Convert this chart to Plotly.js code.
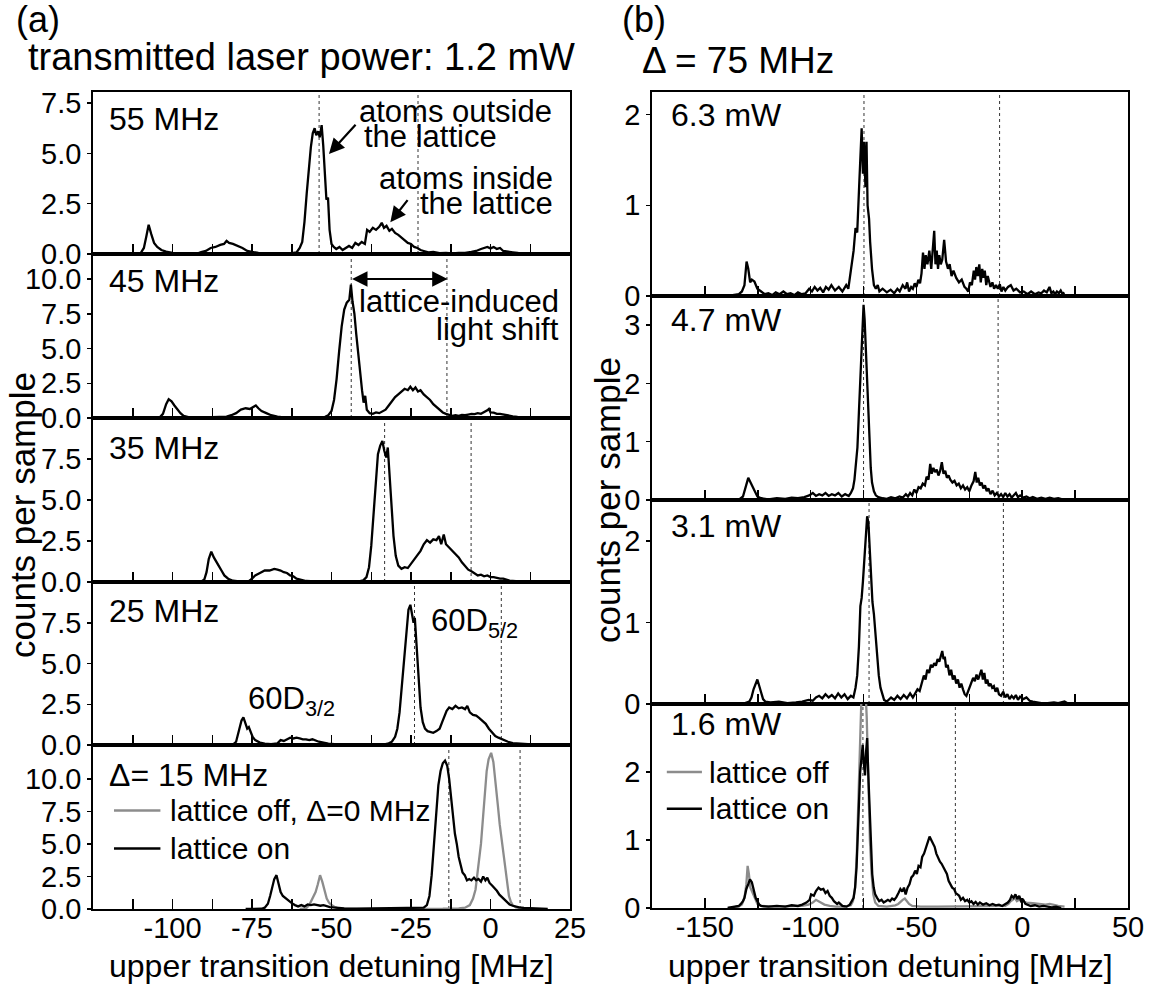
<!DOCTYPE html>
<html><head><meta charset="utf-8">
<script src="https://cdn.plot.ly/plotly-3.0.1.min.js"></script>
<style>html,body{margin:0;padding:0;background:#fff}#chart{width:1161px;height:987px}</style>
</head><body><div id="chart"></div>
<script>
// ---------------- DATA ----------------
// Panel (a): transmitted laser power 1.2 mW, [detuning MHz, counts per sample]
const a55 = [[-117,0],[-112,0],[-110,0.05],[-109,0.3],[-108.2,0.9],[-107.5,1.45],[-106.7,1.0],[-105.8,0.55],[-104.8,0.35],[-103.5,0.2],[-102,0.12],[-100,0.05],[-97,0.03],[-94,0.05],[-92,0.04],[-91,0.1],[-89.5,0.15],[-88,0.3],[-86.5,0.35],[-85,0.45],[-83.8,0.5],[-83,0.65],[-82.2,0.55],[-81,0.5],[-79.5,0.4],[-78,0.3],[-76.5,0.15],[-75,0.1],[-73,0.05],[-70,0.03],[-66,0.05],[-63,0.03],[-61,0.08],[-60,0.3],[-59.2,0.6],[-58.5,1.6],[-57.8,3.0],[-57.2,4.2],[-56.5,5.3],[-55.9,6.0],[-55.3,6.25],[-54.8,5.9],[-54.2,6.1],[-53.7,5.8],[-53.1,6.4],[-52.6,5.4],[-52.1,4.0],[-51.6,2.7],[-51.1,2.8],[-50.6,1.2],[-50,0.5],[-49.3,0.35],[-48.5,0.25],[-47.5,0.35],[-46.5,0.2],[-45.5,0.3],[-44.5,0.4],[-43.5,0.3],[-42.5,0.55],[-41.5,0.45],[-40.5,0.6],[-39.5,0.5],[-38.8,1.2],[-38,1.1],[-37,1.3],[-36,1.2],[-35,1.35],[-34.2,1.55],[-33.5,1.3],[-32.7,1.4],[-31.8,1.15],[-31,1.25],[-30,1.05],[-29,0.95],[-28,0.8],[-27,0.7],[-26,0.55],[-25,0.5],[-24,0.35],[-23,0.3],[-22,0.2],[-21,0.15],[-19.5,0.08],[-18,0.1],[-16,0.04],[-14,0.06],[-12,0.03],[-10,0.05],[-8,0.05],[-6,0.1],[-4.5,0.15],[-3,0.25],[-2,0.3],[-1,0.35],[0,0.28],[1,0.35],[2,0.25],[3,0.3],[4,0.15],[5.5,0.1],[7,0.08],[8.5,0.05],[10,0]];
const a45 = [[-110.5,0],[-106,0],[-104,0.05],[-103,0.3],[-102,1.0],[-101.2,1.35],[-100.3,1.2],[-99.4,0.9],[-98.5,0.6],[-97.5,0.35],[-96.5,0.15],[-95,0.06],[-92,0.03],[-88,0.04],[-85,0.05],[-83,0.1],[-81.5,0.2],[-80,0.35],[-78.5,0.6],[-77,0.7],[-75.7,0.65],[-74.8,0.75],[-73.8,0.9],[-73,0.7],[-72,0.5],[-70.5,0.35],[-69,0.2],[-67,0.1],[-65,0.05],[-60,0.03],[-55,0.05],[-52,0.08],[-51,0.2],[-50,0.5],[-49.2,1.3],[-48.4,2.8],[-47.6,4.8],[-46.8,6.6],[-46,7.8],[-45.2,8.3],[-44.4,8.5],[-43.9,9.6],[-43.4,8.4],[-42.8,7.5],[-42.2,6.0],[-41.6,4.5],[-41,3.2],[-40.4,2.0],[-39.9,1.1],[-39.4,1.6],[-38.9,0.6],[-38,0.35],[-37,0.3],[-36,0.4],[-35,0.35],[-34,0.45],[-33,0.6],[-32,0.9],[-31,1.2],[-30,1.5],[-29,1.7],[-28,1.9],[-27,2.1],[-26,2.0],[-25.2,2.25],[-24.4,2.0],[-23.6,2.2],[-22.8,1.9],[-22,2.0],[-21,1.7],[-20,1.5],[-19,1.3],[-18,1.0],[-17,0.8],[-16,0.55],[-15,0.4],[-14,0.3],[-13,0.2],[-12,0.15],[-11,0.2],[-10,0.15],[-9,0.22],[-8,0.2],[-7,0.25],[-6,0.3],[-5,0.28],[-4,0.35],[-3,0.3],[-2,0.4],[-1,0.55],[-0.5,0.65],[0,0.4],[1,0.38],[2,0.3],[3,0.3],[4,0.25],[5,0.22],[6,0.15],[7,0.12],[8.5,0.08],[10,0.05],[12,0.02],[14.5,0]];
const a35 = [[-94,0],[-91,0.02],[-90,0.15],[-89.3,0.6],[-88.6,1.4],[-87.8,1.85],[-87,1.5],[-86.3,1.3],[-85.5,1.0],[-84.6,0.7],[-83.7,0.4],[-82.5,0.2],[-81,0.08],[-79,0.03],[-76,0.05],[-75,0.2],[-74,0.4],[-72.5,0.55],[-71,0.7],[-69.5,0.7],[-68,0.8],[-67,0.75],[-66,0.7],[-65,0.6],[-64,0.55],[-63,0.4],[-62,0.35],[-61,0.2],[-59.5,0.12],[-58,0.06],[-55,0.04],[-50,0.02],[-45,0.03],[-41,0.05],[-40,0.1],[-39,0.3],[-38.2,0.9],[-37.5,2.2],[-36.8,4.2],[-36.1,6.3],[-35.4,7.8],[-34.7,8.3],[-34,8.6],[-33.4,8.0],[-32.8,7.6],[-32.3,8.2],[-31.7,6.5],[-31.1,4.5],[-30.5,2.8],[-29.8,1.6],[-29,1.0],[-28,0.8],[-27,0.9],[-26,0.85],[-25,1.1],[-24,1.35],[-23,1.6],[-22,1.9],[-21,2.3],[-20,2.55],[-19,2.4],[-18,2.6],[-17,2.55],[-16.2,2.8],[-15.5,2.3],[-14.7,2.9],[-14,2.3],[-13,2.1],[-12,1.9],[-11,1.7],[-10,1.5],[-9,1.2],[-8,1.0],[-7,0.75],[-6,0.65],[-5,0.5],[-4,0.4],[-3,0.45],[-2,0.35],[-1,0.4],[0,0.3],[1,0.3],[2,0.25],[3,0.2],[4,0.2],[5,0.12],[6,0.08],[8,0.05],[10,0.03],[12,0.02],[15,0.01],[18,0]];
const a25 = [[-84.7,0],[-81,0.02],[-80,0.2],[-79,1.0],[-78.3,1.5],[-77.7,1.7],[-77.1,1.3],[-76.5,1.0],[-76,1.1],[-75.4,0.8],[-74.8,0.5],[-74,0.3],[-72.5,0.15],[-71,0.08],[-69,0.05],[-67,0.1],[-66,0.3],[-65,0.25],[-64,0.35],[-63,0.45],[-62,0.4],[-61,0.45],[-60,0.4],[-59,0.35],[-58,0.35],[-57,0.3],[-56,0.35],[-55,0.25],[-54,0.2],[-52.5,0.15],[-51,0.08],[-49,0.05],[-45,0.04],[-40,0.06],[-36,0.03],[-33,0.05],[-32,0.1],[-31,0.2],[-30,0.5],[-29.3,1.0],[-28.6,2.0],[-27.9,3.6],[-27.2,5.5],[-26.5,7.0],[-25.8,8.3],[-25.2,8.6],[-24.6,8.0],[-24.2,7.5],[-23.8,7.8],[-23.2,6.0],[-22.6,4.0],[-22,2.3],[-21.3,1.4],[-20.6,1.0],[-19.8,0.85],[-19,0.8],[-18,0.75],[-17,0.85],[-16,1.0],[-15.2,1.4],[-14.5,1.8],[-13.8,2.1],[-13,2.3],[-12,2.2],[-11,2.4],[-10,2.25],[-9,2.3],[-8,2.2],[-7.3,2.4],[-6.5,2.0],[-5.5,1.85],[-4.5,1.8],[-3.5,1.65],[-2.5,1.5],[-1.5,1.3],[-0.5,1.0],[0.5,0.75],[1.5,0.55],[2.5,0.45],[3.5,0.35],[4.5,0.25],[5.5,0.2],[7,0.12],[9,0.08],[11,0.06],[13,0.04],[15,0.02],[18,0]];
const a15on = [[-77,0],[-72,0.02],[-71,0.1],[-70,0.4],[-69.3,1.0],[-68.6,1.8],[-68,2.3],[-67.3,2.6],[-66.7,2.0],[-66,1.3],[-65.3,1.0],[-64.5,0.85],[-63.5,0.6],[-62.5,0.45],[-61.5,0.3],[-60.5,0.2],[-59.5,0.3],[-58.5,0.2],[-57.5,0.35],[-56.5,0.3],[-55.5,0.35],[-54.5,0.3],[-53.5,0.25],[-52.5,0.3],[-51.5,0.2],[-50.5,0.15],[-49.5,0.12],[-48,0.08],[-46,0.05],[-42,0.03],[-36,0.04],[-30,0.03],[-26,0.05],[-23,0.06],[-21,0.1],[-20,0.3],[-19.2,1.0],[-18.5,2.6],[-17.8,5.0],[-17.1,7.5],[-16.4,9.5],[-15.7,10.6],[-15,11.2],[-14.3,11.4],[-13.6,11.0],[-13,10.0],[-12.4,8.5],[-11.8,7.0],[-11.2,5.8],[-10.6,5.0],[-10,4.0],[-9.4,3.4],[-8.8,2.8],[-8.1,2.6],[-7.4,2.2],[-6.7,2.3],[-6,2.2],[-5.2,2.4],[-4.5,2.2],[-3.8,2.3],[-3,2.1],[-2.3,2.5],[-1.6,2.2],[-1,2.4],[-0.3,2.0],[0.5,1.8],[1.3,1.6],[2,1.4],[2.8,1.1],[3.6,0.9],[4.4,0.7],[5.2,0.5],[6,0.35],[7,0.25],[8,0.18],[9,0.12],[10.5,0.08],[12.5,0.05],[15,0.02],[18,0]];
const a15off = [[-60,0],[-58,0.05],[-57,0.3],[-56,0.8],[-55,1.3],[-54.3,1.9],[-53.6,2.6],[-52.9,2.1],[-52.2,1.4],[-51.5,0.8],[-50.8,0.5],[-50,0.3],[-49,0.15],[-48,0.05],[-46,0.01],[-30,0],[-20,0],[-15,0.02],[-10,0.05],[-8,0.1],[-6.5,0.3],[-5.5,0.8],[-4.7,1.5],[-3.8,3.2],[-3,5.0],[-2.3,7.2],[-1.8,9.0],[-1.2,10.6],[-0.6,11.5],[0.2,12.0],[0.9,11.3],[1.6,9.8],[2.3,8.0],[2.9,6.5],[3.4,5.5],[4,4.2],[4.6,3.0],[5.2,1.9],[5.8,1.0],[6.4,0.55],[7,0.3],[8,0.12],[9.5,0.04],[11,0]];

// Panel (b): Delta = 75 MHz, different transmitted powers
const b63 = [[-139.2,0],[-136,0.01],[-133.9,0.02],[-132.5,0.05],[-131.3,0.12],[-130.3,0.38],[-129.5,0.3],[-128.6,0.15],[-127.8,0.18],[-126.6,0.16],[-125.2,0.08],[-123.4,0.05],[-121.7,0.02],[-120,0.03],[-118.2,0.01],[-116.5,0.04],[-114.7,0.02],[-112.9,0.05],[-111.2,0.02],[-109.5,0.03],[-107.7,0.01],[-106,0.04],[-104.2,0.02],[-102.4,0.03],[-100.7,0.08],[-99.4,0.05],[-98.1,0.1],[-96.8,0.06],[-95.5,0.09],[-94.1,0.04],[-92.8,0.1],[-91.5,0.07],[-90.2,0.12],[-88.5,0.06],[-86.7,0.1],[-85,0.05],[-83.2,0.12],[-82.2,0.08],[-81.4,0.2],[-80.6,0.35],[-79.7,0.5],[-78.8,0.75],[-78,0.7],[-77.1,1.2],[-76.6,1.5],[-75.9,1.85],[-75.3,1.35],[-74.8,1.7],[-74.1,1.2],[-73.6,1.7],[-73.1,1.0],[-72.4,0.85],[-71.9,0.6],[-71,0.3],[-70.1,0.12],[-69.2,0.08],[-68.3,0.12],[-67.5,0.05],[-66,0.08],[-64,0.04],[-62.2,0.07],[-60.5,0.03],[-59,0.08],[-57.9,0.05],[-56.5,0.12],[-55.2,0.08],[-54.4,0.15],[-53.5,0.05],[-52.5,0.1],[-51.7,0.08],[-50.8,0.14],[-50,0.1],[-49.1,0.18],[-48.3,0.14],[-47.6,0.25],[-46.9,0.48],[-46.2,0.3],[-45.6,0.45],[-44.8,0.35],[-43.9,0.5],[-43,0.3],[-42.3,0.55],[-41.6,0.72],[-41,0.35],[-40.4,0.5],[-39.8,0.3],[-39.2,0.45],[-38.5,0.35],[-37.8,0.4],[-36.9,0.62],[-36,0.38],[-35.1,0.3],[-34.3,0.35],[-33.4,0.22],[-32.5,0.28],[-31.2,0.2],[-29.9,0.15],[-28.6,0.18],[-27.3,0.1],[-26.4,0.08],[-25.5,0.05],[-24.7,0.15],[-23.8,0.12],[-22.9,0.28],[-22.3,0.18],[-21.7,0.32],[-21,0.22],[-20.3,0.35],[-19.6,0.15],[-18.9,0.3],[-18.3,0.2],[-17.7,0.28],[-17,0.12],[-16.3,0.22],[-15.6,0.15],[-15,0.1],[-14.1,0.15],[-13.3,0.08],[-12.4,0.12],[-11.5,0.08],[-10.6,0.13],[-9.8,0.05],[-8.9,0.1],[-8,0.06],[-6.7,0.1],[-5.4,0.12],[-4.1,0.06],[-2.8,0.08],[-1,0.04],[0.7,0.05],[2.5,0.02],[4.2,0.05],[6,0.02],[7.7,0.04],[9,0.03],[10.3,0.06],[11.6,0.04],[12.9,0.1],[13.8,0.03],[14.7,0.05],[15.5,0.02],[16.4,0.05],[17.3,0.03],[18.2,0.06],[19.1,0.02],[19.9,0.04]];
const b47 = [[-139.2,0],[-136,0.01],[-133.5,0.02],[-132,0.06],[-131.2,0.15],[-130.4,0.25],[-129.5,0.38],[-128.7,0.32],[-127.8,0.25],[-126.9,0.18],[-126,0.1],[-125.2,0.06],[-123.4,0.03],[-120,0.01],[-116,0.03],[-112,0.02],[-109,0.04],[-106,0.03],[-103,0.05],[-100.7,0.08],[-99,0.12],[-97.5,0.07],[-96,0.1],[-94.5,0.08],[-93,0.12],[-91.5,0.07],[-90,0.1],[-88.5,0.08],[-86.9,0.12],[-85.3,0.06],[-83.7,0.1],[-82,0.07],[-81,0.12],[-80,0.2],[-79.3,0.35],[-78.6,0.6],[-77.9,0.9],[-77.2,1.5],[-76.6,2.0],[-76,2.7],[-75.5,3.1],[-75,3.35],[-74.5,3.1],[-74,2.6],[-73.4,2.0],[-72.8,1.5],[-72.2,0.9],[-71.6,0.55],[-71,0.3],[-70.1,0.15],[-69.2,0.08],[-68,0.05],[-66,0.03],[-64,0.02],[-62,0.05],[-60,0.03],[-58,0.06],[-56.5,0.04],[-55,0.1],[-54,0.06],[-53,0.12],[-52,0.08],[-51,0.18],[-50,0.12],[-49,0.22],[-48,0.2],[-47,0.28],[-46,0.25],[-45.2,0.4],[-44.3,0.35],[-43.5,0.62],[-42.8,0.45],[-42,0.55],[-41.2,0.48],[-40.4,0.52],[-39.6,0.42],[-38.8,0.5],[-38,0.65],[-37.2,0.45],[-36.4,0.5],[-35.6,0.38],[-34.8,0.42],[-34,0.35],[-33,0.3],[-32,0.33],[-31,0.25],[-30,0.28],[-29,0.2],[-28,0.25],[-27,0.18],[-26,0.22],[-25,0.15],[-24,0.25],[-23,0.32],[-22.2,0.48],[-21.5,0.3],[-20.8,0.38],[-20,0.25],[-19.2,0.3],[-18.4,0.2],[-17.6,0.25],[-16.8,0.15],[-16,0.2],[-15,0.1],[-14,0.16],[-13,0.08],[-12,0.12],[-11,0.06],[-10,0.1],[-9,0.05],[-8,0.12],[-7,0.06],[-6,0.1],[-5,0.04],[-4,0.08],[-3,0.12],[-2,0.05],[-1,0.08],[0.5,0.04],[2,0.06],[3.5,0.03],[5,0.05],[7,0.02],[9,0.04],[11,0.02],[13,0.04],[15,0.02],[17,0.03],[19,0.01],[20,0]];
const b31 = [[-135.6,0],[-131,0.01],[-129,0.03],[-128,0.08],[-127,0.18],[-126,0.26],[-125.2,0.3],[-124.3,0.22],[-123.4,0.15],[-122.5,0.06],[-121.5,0.03],[-119,0.02],[-115,0.03],[-111,0.01],[-107,0.02],[-104,0.03],[-101,0.05],[-99,0.04],[-97.5,0.08],[-96,0.1],[-94.5,0.07],[-93,0.12],[-91.5,0.08],[-90,0.11],[-88.5,0.07],[-87,0.13],[-85.5,0.08],[-84,0.12],[-82.5,0.06],[-81,0.1],[-79.8,0.08],[-78.8,0.2],[-78,0.35],[-77.2,0.7],[-76.5,1.2],[-75.9,1.3],[-75.3,1.5],[-74.6,1.8],[-74,2.05],[-73.3,2.3],[-72.7,2.22],[-72.1,1.9],[-71.5,1.6],[-70.8,1.25],[-70.1,1.1],[-69.3,0.8],[-68.6,0.6],[-67.8,0.35],[-67,0.2],[-66.2,0.12],[-65.3,0.05],[-64,0.03],[-62,0.08],[-60.5,0.05],[-59,0.1],[-57.5,0.06],[-56,0.11],[-54.5,0.07],[-53,0.13],[-51.7,0.08],[-50.5,0.14],[-49.5,0.18],[-48.5,0.16],[-47.5,0.25],[-46.5,0.35],[-45.7,0.3],[-44.9,0.42],[-44,0.38],[-43.2,0.48],[-42.4,0.45],[-41.6,0.5],[-40.8,0.47],[-40,0.55],[-39.2,0.52],[-38.4,0.6],[-37.8,0.65],[-37.2,0.55],[-36.6,0.58],[-36,0.45],[-35.2,0.48],[-34.4,0.35],[-33.6,0.42],[-32.8,0.3],[-32,0.35],[-31.2,0.25],[-30.4,0.3],[-29.6,0.2],[-28.8,0.25],[-28,0.18],[-27.2,0.12],[-26.4,0.1],[-25.6,0.15],[-24.8,0.2],[-24,0.25],[-23.2,0.32],[-22.4,0.28],[-21.6,0.36],[-20.8,0.3],[-20,0.38],[-19.3,0.42],[-18.6,0.3],[-17.9,0.38],[-17.2,0.25],[-16.5,0.3],[-15.8,0.22],[-15,0.25],[-14.2,0.2],[-13.4,0.22],[-12.6,0.15],[-11.8,0.2],[-11,0.12],[-10,0.1],[-9,0.15],[-8,0.08],[-7,0.12],[-6,0.06],[-5,0.1],[-4,0.07],[-3,0.11],[-2,0.05],[-1,0.09],[0.5,0.06],[2,0.08],[3.5,0.04],[5,0.03],[7,0.02],[9,0.01],[12,0.01],[15,0.02],[17,0.01],[20,0.03],[22,0]];
const b16on = [[-139.2,0],[-136,0.02],[-134,0.03],[-133,0.06],[-132,0.1],[-131.3,0.15],[-130.4,0.28],[-129.5,0.35],[-128.7,0.42],[-127.8,0.38],[-126.9,0.25],[-126,0.15],[-125.2,0.1],[-124.3,0.05],[-123.4,0.03],[-120,0.02],[-116,0.03],[-112,0.02],[-109,0.04],[-106,0.03],[-104,0.05],[-102,0.08],[-100.5,0.12],[-99.8,0.2],[-98.5,0.18],[-97.5,0.25],[-96.3,0.3],[-95.2,0.27],[-94,0.28],[-93,0.22],[-92,0.25],[-91,0.18],[-90,0.15],[-89,0.1],[-87.5,0.06],[-86.7,0.08],[-85,0.03],[-83,0.02],[-81.5,0.05],[-80.5,0.1],[-79.7,0.15],[-79,0.3],[-78.3,0.6],[-77.7,1.1],[-77.1,1.6],[-76.6,2.0],[-76,2.2],[-75.4,2.4],[-74.8,2.1],[-74.3,1.95],[-73.8,2.3],[-73.3,2.5],[-72.8,2.0],[-72.1,1.5],[-71.5,1.0],[-70.9,0.5],[-70.2,0.3],[-69.5,0.2],[-68.6,0.15],[-67.6,0.1],[-66.5,0.12],[-65.5,0.08],[-64.5,0.1],[-63.5,0.12],[-62.5,0.1],[-61.5,0.14],[-60.5,0.12],[-59.5,0.16],[-58.5,0.22],[-57.6,0.28],[-56.7,0.24],[-55.9,0.3],[-55.1,0.2],[-54.2,0.3],[-53.3,0.35],[-52.4,0.45],[-51.5,0.48],[-50.6,0.55],[-49.8,0.5],[-49,0.62],[-48.1,0.6],[-47.3,0.75],[-46.4,0.8],[-45.5,0.9],[-44.6,1.0],[-43.8,1.05],[-43,1.0],[-42.2,0.95],[-41.4,0.9],[-40.6,0.8],[-39.7,0.72],[-38.9,0.68],[-38.1,0.65],[-37.3,0.6],[-36.5,0.55],[-35.6,0.5],[-34.8,0.4],[-34,0.35],[-33.1,0.3],[-32.2,0.28],[-31.4,0.22],[-30.6,0.2],[-29.8,0.18],[-29,0.12],[-28,0.15],[-27,0.1],[-26,0.12],[-25,0.08],[-24,0.1],[-23,0.06],[-22,0.09],[-21,0.05],[-20,0.08],[-18.5,0.05],[-17,0.07],[-15.5,0.04],[-14,0.06],[-12.5,0.04],[-11,0.05],[-9.5,0.03],[-8,0.06],[-6.8,0.08],[-5.8,0.12],[-5,0.18],[-4.1,0.15],[-3.2,0.2],[-2.3,0.13],[-1.4,0.18],[-0.5,0.1],[0.5,0.12],[1.5,0.06],[2.5,0.05],[4,0.03],[6,0.04],[8,0.02],[10,0.03],[12,0.02],[14,0.01],[16,0.02],[18.4,0]];
const b16off = [[-139.2,0],[-134,0.02],[-132.5,0.05],[-131.3,0.15],[-130.4,0.35],[-129.8,0.62],[-129.2,0.5],[-128.5,0.3],[-127.8,0.25],[-127,0.2],[-126,0.12],[-125.2,0.06],[-123.4,0.03],[-118,0.02],[-110,0.02],[-104,0.03],[-101,0.05],[-99,0.08],[-97.5,0.12],[-96.3,0.1],[-95,0.08],[-93.5,0.05],[-91,0.03],[-88,0.02],[-84,0.02],[-81,0.04],[-80,0.1],[-79,0.3],[-78.2,0.8],[-77.4,1.6],[-76.6,2.6],[-75.8,3.3],[-75,3.4],[-74.2,3.3],[-73.5,2.8],[-72.8,1.8],[-72,1.0],[-71.2,0.5],[-70.4,0.2],[-69.5,0.08],[-68,0.03],[-64,0.02],[-60,0.04],[-58.6,0.06],[-57.5,0.1],[-56.5,0.12],[-55.5,0.14],[-54.5,0.1],[-53.5,0.06],[-52,0.03],[-48,0.02],[-40,0.02],[-30,0.02],[-20,0.02],[-12,0.02],[-8,0.03],[-6.5,0.06],[-5.5,0.1],[-4.5,0.12],[-3.5,0.15],[-2.5,0.1],[-1.5,0.12],[0,0.1],[2,0.08],[5,0.07],[8,0.06],[11,0.05],[13,0.06],[15,0.04],[17,0.03],[20,0.02]];

// Positions of the dotted reference lines (MHz), two per sub-panel
const dotsA = [[-53.9,-22.8],[-43.8,-13.7],[-33.3,-6.1],[-23.9,3.4],[-13.1,9.3]];
const dotsB = [[-74.8,-10.7],[-75.0,-11.4],[-72.4,-8.9],[-75.3,-31.6]];

// Labels and ticks
const labelsA = ['55 MHz','45 MHz','35 MHz','25 MHz','Δ= 15 MHz'];
const labelsB = ['6.3 mW','4.7 mW','3.1 mW','1.6 mW'];
const xTicksA = [-100,-75,-50,-25,0,25];
const xMinorA = [-112.5,-87.5,-62.5,-37.5,-12.5,12.5];
const xTicksB = [-150,-100,-50,0,50];
const xMinorB = [-125,-75,-25,25];
const yTicksA = [[0,2.5,5,7.5],[0,2.5,5,7.5,10],[0,2.5,5,7.5],[0,2.5,5,7.5],[0,2.5,5,7.5,10]];
const yMinorA = [[1.25,3.75,6.25],[1.25,3.75,6.25,8.75,11.25],[1.25,3.75,6.25,8.75],[1.25,3.75,6.25,8.75],[1.25,3.75,6.25,8.75,11.25]];
const yTicksB = [[0,1,2],[0,1,2,3],[0,1,2],[0,1,2]];
const yMinorB = [[0.5,1.5],[0.5,1.5,2.5],[0.5,1.5],[0.5,1.5,2.5]];
const yMaxA = [8.05,11.8,10,10,12.6];
const yMaxB = [2.25,3.5,2.5,3.0];

// ---------------- LAYOUT ----------------
const W = 1161, H = 987;
const FONT = '"Liberation Sans", Arial, Helvetica, sans-serif';
const colA = [93, 570], colB = [652, 1128];
const rowsA = [92, 254, 418, 582, 745, 909];
const rowsB = [92, 296, 500, 704, 908];
const BLACK = '#000', GRAY = '#8c8c8c';
const sfx = n => (n === 1 ? '' : String(n));

const layout = {
  width: W, height: H, margin: {l: 0, r: 0, t: 0, b: 0},
  paper_bgcolor: '#fff', plot_bgcolor: 'rgba(0,0,0,0)', showlegend: false,
  font: {family: FONT, color: BLACK, size: 29},
  shapes: [], annotations: []
};
const traces = [];

function panel(n, col, top, bot, xr, xt, xm, showX, yt, ym, ymax, fmt, dots) {
  const s = sfx(n);
  layout['xaxis' + s] = {
    domain: [col[0] / W, col[1] / W], anchor: 'y' + s, range: xr,
    showline: true, mirror: true, linecolor: BLACK, linewidth: 1.8,
    ticks: 'inside', ticklen: 10, tickwidth: 1.5, tickcolor: BLACK,
    tickmode: 'array', tickvals: xt, ticktext: xt.map(v => String(v)),
    minor: {ticks: 'inside', ticklen: 10, tickwidth: 1.5, tickcolor: BLACK, tickmode: 'array', tickvals: xm},
    showticklabels: showX, tickfont: {size: 29, family: FONT}, ticklabelstandoff: -8,
    showgrid: false, zeroline: false, fixedrange: true
  };
  layout['yaxis' + s] = {
    domain: [1 - bot / H, 1 - top / H], anchor: 'x' + s, range: [0, ymax],
    showline: true, mirror: true, linecolor: BLACK, linewidth: 1.8,
    ticks: 'outside', ticklen: 4, tickwidth: 1.5, tickcolor: BLACK,
    tickmode: 'array', tickvals: yt, ticktext: yt.map(fmt),
    tickfont: {size: 29, family: FONT}, showgrid: false, zeroline: false, fixedrange: true
  };
  // overlay axis carrying the inner major + minor tick marks
  layout['yaxis' + (n + 9)] = {
    overlaying: 'y' + s, anchor: 'x' + s, side: 'left', range: [0, ymax],
    showline: false, showticklabels: false, showgrid: false, zeroline: false,
    ticks: 'inside', ticklen: 9, tickwidth: 1.5, tickcolor: BLACK,
    tickmode: 'array', tickvals: yt,
    minor: {ticks: 'inside', ticklen: 6, tickwidth: 1.5, tickcolor: BLACK, tickmode: 'array', tickvals: ym},
    fixedrange: true
  };
  dots.forEach(d => layout.shapes.push({
    type: 'line', xref: 'x' + s, yref: 'y' + s + ' domain', x0: d, x1: d, y0: 0, y1: 1,
    line: {color: '#333', width: 1, dash: 'dot'}, layer: 'below'
  }));
}

function addTrace(n, arr, color) {
  const s = sfx(n);
  traces.push({
    type: 'scatter', mode: 'lines', x: arr.map(p => p[0]), y: arr.map(p => p[1]),
    xaxis: 'x' + s, yaxis: 'y' + s, line: {color: color, width: 2.3}, hoverinfo: 'skip'
  });
}

const fmtA = v => v.toFixed(1), fmtB = v => String(v);
for (let i = 0; i < 5; i++) {
  panel(i + 1, colA, rowsA[i], rowsA[i + 1], [-125, 25], xTicksA, xMinorA, i === 4,
        yTicksA[i], yMinorA[i], yMaxA[i], fmtA, dotsA[i]);
}
for (let i = 0; i < 4; i++) {
  panel(i + 6, colB, rowsB[i], rowsB[i + 1], [-175, 50], xTicksB, xMinorB, i === 3,
        yTicksB[i], yMinorB[i], yMaxB[i], fmtB, dotsB[i]);
}

addTrace(1, a55, BLACK);
addTrace(2, a45, BLACK);
addTrace(3, a35, BLACK);
addTrace(4, a25, BLACK);
addTrace(5, a15off, GRAY);
addTrace(5, a15on, BLACK);
addTrace(6, b63, BLACK);
addTrace(7, b47, BLACK);
addTrace(8, b31, BLACK);
addTrace(9, b16off, GRAY);
addTrace(9, b16on, BLACK);

// ---------------- TEXT ----------------
const A = layout.annotations;
function txt(text, xref, yref, x, y, size, xanchor, extra) {
  A.push(Object.assign({text: text, xref: xref, yref: yref, x: x, y: y, showarrow: false,
    xanchor: xanchor || 'left', yanchor: 'middle', font: {size: size, family: FONT, color: BLACK}}, extra || {}));
}
function ptxt(text, px, py, size, xanchor, extra) { txt(text, 'paper', 'paper', px / W, 1 - py / H, size, xanchor, extra); }

ptxt('(a)', 14, 20, 36);
ptxt('(b)', 620, 20, 36);
ptxt('transmitted laser power: 1.2 mW', 26, 57, 38);
ptxt('Δ = 75 MHz', 640, 60, 37);
ptxt('counts per sample', 22, 515, 35, 'center', {textangle: -90});
ptxt('counts per sample', 607, 500, 35, 'center', {textangle: -90});
ptxt('upper transition detuning [MHz]', (colA[0] + colA[1]) / 2, 966, 32, 'center');
ptxt('upper transition detuning [MHz]', (colB[0] + colB[1]) / 2, 966, 32, 'center');

const labYA = [6.7, 9.85, 8.2, 8.2, 10.3];
labelsA.forEach((t, i) => txt(t, 'x' + sfx(i + 1), 'y' + sfx(i + 1), -120.7, labYA[i], 32));
const labYB = [2.0, 3.09, 2.18, 2.7];
labelsB.forEach((t, i) => txt(t, 'x' + (i + 6), 'y' + (i + 6), -167.1, labYB[i], 32));

// annotations of panel (a)
txt('atoms outside', 'x', 'y', -42.0, 7.08, 31, 'left');
txt('the lattice', 'x', 'y', -40.3, 5.83, 31, 'left');
txt('atoms inside', 'x', 'y', 20.3, 3.75, 31, 'right');
txt('the lattice', 'x', 'y', 20.3, 2.5, 31, 'right');
txt('lattice-induced', 'x2', 'y2', 22.1, 8.4, 31, 'right');
txt('light shift', 'x2', 'y2', 22.1, 6.35, 31, 'right');
txt('60D<sub>5/2</sub>', 'x4', 'y4', -19.3, 7.5, 31, 'left');
txt('60D<sub>3/2</sub>', 'x4', 'y4', -77.0, 2.7, 31, 'left');

function arrow(xr, yr, x, y, ax, ay, both) {
  A.push({text: '', xref: xr, yref: yr, x: x, y: y, ax: ax, ay: ay, axref: xr, ayref: yr,
    showarrow: true, arrowhead: 2, arrowsize: 1.4, arrowwidth: 2.2, arrowcolor: BLACK,
    arrowside: both ? 'end+start' : 'end', startarrowhead: 2, startarrowsize: 1.4, standoff: 0, startstandoff: 0});
}
arrow('x', 'y', -50.8, 4.97, -42.0, 6.5);
arrow('x', 'y', -31.5, 1.58, -25.7, 2.75);
arrow('x2', 'y2', -13.5, 10.0, -44.0, 10.0, true);

// in-panel legends
const legA = [['lattice off, Δ=0 MHz', GRAY, 7.57], ['lattice on', BLACK, 4.65]];
legA.forEach(l => {
  layout.shapes.push({type: 'line', xref: 'x5', yref: 'y5', x0: -118.4, x1: -103.8, y0: l[2], y1: l[2], line: {color: l[1], width: 2.5}});
  txt(l[0], 'x5', 'y5', -101.5, l[2], 30, 'left');
});
const legB = [['lattice off', GRAY, 2.0], ['lattice on', BLACK, 1.46]];
legB.forEach(l => {
  layout.shapes.push({type: 'line', xref: 'x9', yref: 'y9', x0: -168.0, x1: -151.4, y0: l[2], y1: l[2], line: {color: l[1], width: 2.5}});
  txt(l[0], 'x9', 'y9', -148.8, l[2], 30, 'left');
});

Plotly.newPlot('chart', traces, layout, {displayModeBar: false, responsive: false, staticPlot: true});
</script>
</body></html>
